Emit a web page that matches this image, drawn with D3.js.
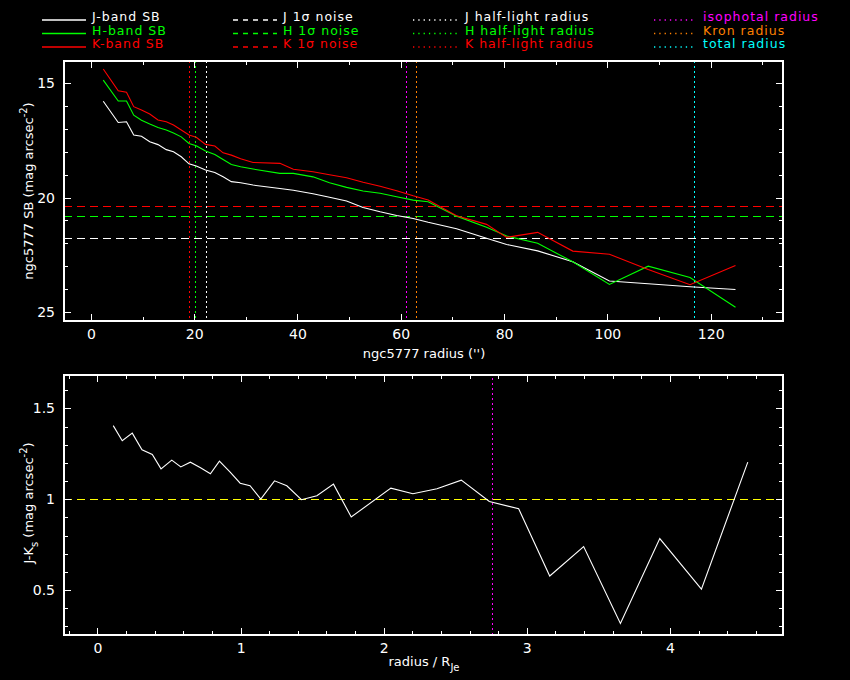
<!DOCTYPE html>
<html>
<head>
<meta charset="utf-8">
<script src="https://cdn.jsdelivr.net/npm/d3@7"></script>
<style>
  html, body { margin: 0; padding: 0; background: #000; }
  svg { display: block; }
  text { font-family: "DejaVu Sans", sans-serif; fill: #fff; }
</style>
</head>
<body>
<div id="chart"></div>
<script>
// ── Data ─────────────────────────────────────────────────────
// surface brightness profiles, radius in arcsec
const radius = [2.4, 5.3, 6.9, 8.3, 9.8, 11.4, 13.0, 14.6, 16.0, 17.5, 19.0, 20.4, 22.2,
  24.0, 25.6, 27.2, 29.0, 31.4, 36.6, 39.2, 43.0, 46.2, 49.5, 52.7, 56.0, 59.2, 62.4,
  65.3, 70.8, 76.6, 80.5, 86.5, 93.3, 100.4, 107.9, 116.0, 124.8];
const sbJ = [15.78, 16.71, 16.68, 17.26, 17.31, 17.55, 17.68, 17.90, 17.99, 18.21, 18.52, 18.62, 18.79,
  18.90, 19.09, 19.30, 19.35, 19.45, 19.60, 19.68, 19.83, 19.98, 20.15, 20.43, 20.62, 20.78, 20.91,
  21.08, 21.36, 21.78, 22.05, 22.33, 22.81, 23.65, 23.77, 23.90, 24.02];
const sbH = [14.86, 15.77, 15.77, 16.39, 16.61, 16.78, 16.93, 17.04, 17.17, 17.34, 17.63, 17.73, 17.96,
  18.11, 18.33, 18.55, 18.65, 18.75, 18.94, 18.94, 19.09, 19.35, 19.55, 19.71, 19.81, 19.96, 20.11,
  20.18, 20.81, 21.30, 21.68, 22.00, 22.81, 23.80, 23.00, 23.50, 24.80];
const sbK = [14.37, 15.32, 15.39, 16.02, 16.17, 16.34, 16.60, 16.68, 16.82, 17.04, 17.26, 17.36, 17.67,
  17.74, 18.04, 18.14, 18.30, 18.46, 18.50, 18.76, 18.87, 19.00, 19.13, 19.33, 19.50, 19.70, 19.92,
  20.10, 20.79, 21.17, 21.74, 21.52, 22.34, 22.48, 23.15, 23.81, 22.97];

// 1-sigma noise levels (J, H, K)
const noise = [21.77, 20.82, 20.35];
// half-light radii (J, H, K) and isophotal / Kron / total radii
const halfLight = [22.2, 20.1, 19.0];
const apertures = [61.0, 63.0, 116.7];

// J-Ks colour profile, radius in units of R_Je
const jkRadius = [0.11, 0.173, 0.243, 0.311, 0.383, 0.444, 0.519, 0.582, 0.649, 0.717, 0.789, 0.852,
  0.927, 0.997, 1.066, 1.141, 1.237, 1.323, 1.425, 1.533, 1.649, 1.773, 2.05, 2.204, 2.372, 2.542,
  2.738, 2.943, 3.16, 3.397, 3.654, 3.929, 4.22, 4.544];
const jk = [1.405, 1.322, 1.364, 1.272, 1.246, 1.167, 1.215, 1.178, 1.204, 1.175, 1.14, 1.21,
  1.149, 1.088, 1.074, 1.0, 1.101, 1.074, 0.997, 1.019, 1.083, 0.902, 1.061, 1.03, 1.057, 1.105,
  0.987, 0.947, 0.577, 0.739, 0.316, 0.783, 0.505, 1.204];
const jkRef = 1.0;
const isoRadiusNorm = 2.76;

// ticks
const xTopMajor = [0, 20, 40, 60, 80, 100, 120];
const xTopMinor = [10, 30, 50, 70, 90, 110, 130];
const yTopMajor = [15, 20, 25];
const yTopMinor = [16, 17, 18, 19, 21, 22, 23, 24];
const xBotMajor = [0, 1, 2, 3, 4];
const xBotMinor = [-0.2, 0.2, 0.4, 0.6, 0.8, 1.2, 1.4, 1.6, 1.8, 2.2, 2.4, 2.6, 2.8, 3.2, 3.4, 3.6, 3.8, 4.2, 4.4, 4.6];
const yBotMajor = [0.5, 1, 1.5];
const yBotMinor = [0.3, 0.4, 0.6, 0.7, 0.8, 0.9, 1.1, 1.2, 1.3, 1.4, 1.6];

const BAND_COLORS = ['#ffffff', '#00ff00', '#ff0000'];
const AP_COLORS   = ['#ff00ff', '#ff8000', '#00ffff'];

// ── Layout ───────────────────────────────────────────────────
const width = 850, height = 680;
const FONT = '"DejaVu Sans", sans-serif';
const DOTS = '2 3';
const snap = v => Math.round(v) + 0.5;   // keep 1px lines sharp

const svg = d3.select('#chart').append('svg')
  .attr('width', width).attr('height', height)
  .style('background', '#000');

const xTop = d3.scaleLinear().domain([-5.2, 134]).range([64, 783]);
const yTop = d3.scaleLinear().domain([14.02, 25.4]).range([61, 321]);
const xBot = d3.scaleLinear().domain([-0.234, 4.79]).range([64, 783]);
const yBot = d3.scaleLinear().domain([0.252, 1.684]).range([635, 375]);

const fmt = d3.format('~g');

function drawFrame(x, y, xMaj, xMin, yMaj, yMin) {
  const [l, r] = x.range();
  const t = Math.min(...y.range()), b = Math.max(...y.range());
  const g = svg.append('g').attr('color', '#fff');

  const add = (axis, tx, ty) => g.append('g')
    .attr('transform', `translate(${tx},${ty})`)
    .call(axis)
    .call(a => a.select('.domain').remove())
    .attr('font-size', 14).attr('font-family', FONT)
    .call(a => a.selectAll('line').attr('shape-rendering', 'crispEdges'));

  add(d3.axisBottom(x).tickValues(xMaj).tickSize(-7).tickPadding(8).tickFormat(fmt), 0, b);
  add(d3.axisBottom(x).tickValues(xMin).tickSize(-4).tickFormat(''), 0, b);
  add(d3.axisTop(x).tickValues(xMaj).tickSize(-7).tickFormat(''), 0, t);
  add(d3.axisTop(x).tickValues(xMin).tickSize(-4).tickFormat(''), 0, t);
  add(d3.axisLeft(y).tickValues(yMaj).tickSize(-7).tickPadding(9).tickFormat(fmt), l, 0);
  add(d3.axisLeft(y).tickValues(yMin).tickSize(-4).tickFormat(''), l, 0);
  add(d3.axisRight(y).tickValues(yMaj).tickSize(-7).tickFormat(''), r, 0);
  add(d3.axisRight(y).tickValues(yMin).tickSize(-4).tickFormat(''), r, 0);

  g.append('rect')
    .attr('x', l).attr('y', t).attr('width', r - l).attr('height', b - t)
    .attr('fill', 'none').attr('stroke', '#fff').attr('stroke-width', 1.2)
    .attr('shape-rendering', 'crispEdges');
}

// ── Top panel: SB profiles ───────────────────────────────────
const topG = svg.append('g');
const [tL, tR] = xTop.range();

noise.forEach((v, i) => {
  topG.append('line')
    .attr('x1', tL).attr('x2', tR).attr('y1', snap(yTop(v))).attr('y2', snap(yTop(v)))
    .attr('stroke', BAND_COLORS[i]).attr('stroke-width', 1.4).attr('stroke-dasharray', '8 5')
    .attr('shape-rendering', 'crispEdges');
});

const vlines = halfLight.map((r, i) => ({ r, c: BAND_COLORS[i] }))
  .concat(apertures.map((r, i) => ({ r, c: AP_COLORS[i] })));
vlines.forEach(d => {
  topG.append('line')
    .attr('x1', snap(xTop(d.r))).attr('x2', snap(xTop(d.r)))
    .attr('y1', yTop.range()[0]).attr('y2', yTop.range()[1])
    .attr('stroke', d.c).attr('stroke-width', 1.4).attr('stroke-dasharray', DOTS)
    .attr('shape-rendering', 'crispEdges');
});

const sbLine = d3.line().x(d => xTop(d[0])).y(d => yTop(d[1]));
[sbJ, sbH, sbK].forEach((s, i) => {
  topG.append('path')
    .datum(d3.zip(radius, s))
    .attr('fill', 'none').attr('stroke', BAND_COLORS[i]).attr('stroke-width', 1.1)
    .attr('d', sbLine);
});

drawFrame(xTop, yTop, xTopMajor, xTopMinor, yTopMajor, yTopMinor);

svg.append('text')
  .attr('x', 424).attr('y', 358).attr('text-anchor', 'middle')
  .attr('font-size', 13).text("ngc5777 radius ('')");

const yl1 = svg.append('text')
  .attr('transform', 'translate(33,191) rotate(-90)')
  .attr('text-anchor', 'middle').attr('font-size', 13);
yl1.append('tspan').text('ngc5777 SB (mag arcsec');
yl1.append('tspan').attr('dy', -6).attr('font-size', 10).text('-2');
yl1.append('tspan').attr('dy', 6).text(')');

// ── Bottom panel: J-Ks colour ────────────────────────────────
const botG = svg.append('g');
const [bL, bR] = xBot.range();

botG.append('line')
  .attr('x1', bL).attr('x2', bR).attr('y1', snap(yBot(jkRef))).attr('y2', snap(yBot(jkRef)))
  .attr('stroke', '#ffff00').attr('stroke-width', 1.4).attr('stroke-dasharray', '8 5')
  .attr('shape-rendering', 'crispEdges');

botG.append('line')
  .attr('x1', snap(xBot(isoRadiusNorm))).attr('x2', snap(xBot(isoRadiusNorm)))
  .attr('y1', yBot.range()[0]).attr('y2', yBot.range()[1])
  .attr('stroke', AP_COLORS[0]).attr('stroke-width', 1.4).attr('stroke-dasharray', DOTS)
  .attr('shape-rendering', 'crispEdges');

botG.append('path')
  .datum(d3.zip(jkRadius, jk))
  .attr('fill', 'none').attr('stroke', '#fff').attr('stroke-width', 1.1)
  .attr('d', d3.line().x(d => xBot(d[0])).y(d => yBot(d[1])));

drawFrame(xBot, yBot, xBotMajor, xBotMinor, yBotMajor, yBotMinor);

const xl2 = svg.append('text')
  .attr('x', 424).attr('y', 666).attr('text-anchor', 'middle').attr('font-size', 13);
xl2.append('tspan').text('radius / R');
xl2.append('tspan').attr('dy', 5).attr('font-size', 10).text('Je');

const yl2 = svg.append('text')
  .attr('transform', 'translate(33,503) rotate(-90)')
  .attr('text-anchor', 'middle').attr('font-size', 13);
yl2.append('tspan').text('J-K');
yl2.append('tspan').attr('dy', 5).attr('font-size', 10).text('s');
yl2.append('tspan').attr('dy', -5).text(' (mag arcsec');
yl2.append('tspan').attr('dy', -6).attr('font-size', 10).text('-2');
yl2.append('tspan').attr('dy', 6).text(')');

// ── Legend ───────────────────────────────────────────────────
const legendCols = [
  { x1: 42,  x2: 86,  tx: 92,  dash: null,  labels: ['J-band SB', 'H-band SB', 'K-band SB'], colors: BAND_COLORS },
  { x1: 233, x2: 277, tx: 283, dash: '5 5', labels: ['J 1σ noise', 'H 1σ noise', 'K 1σ noise'], colors: BAND_COLORS },
  { x1: 413, x2: 457, tx: 465, dash: '1.3 4', labels: ['J half-light radius', 'H half-light radius', 'K half-light radius'], colors: BAND_COLORS },
  { x1: 654, x2: 694, tx: 703, dash: '1.3 4', labels: ['isophotal radius', 'Kron radius', 'total radius'], colors: AP_COLORS },
];
const rowY = [20, 33.5, 47];
const legend = svg.append('g');
legendCols.forEach(col => {
  col.labels.forEach((lab, i) => {
    legend.append('line')
      .attr('x1', col.x1).attr('x2', col.x2).attr('y1', rowY[i]).attr('y2', rowY[i])
      .attr('stroke', col.colors[i]).attr('stroke-width', 1.3)
      .attr('stroke-dasharray', col.dash);
    legend.append('text')
      .attr('x', col.tx).attr('y', rowY[i] + 1)
      .attr('font-size', 12.5).attr('letter-spacing', 1)
      .style('fill', col.colors[i])
      .text(lab);
  });
});
</script>
</body>
</html>
